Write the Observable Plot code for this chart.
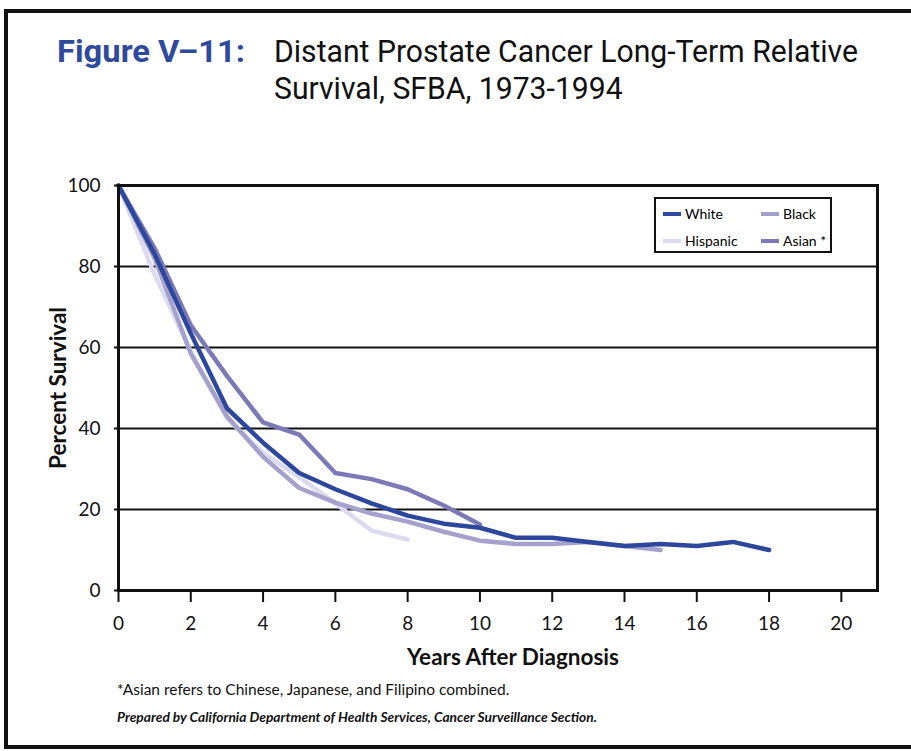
<!DOCTYPE html>
<html>
<head>
<meta charset="utf-8">
<script src="https://cdn.jsdelivr.net/npm/d3@7"></script>
<script src="https://cdn.jsdelivr.net/npm/@observablehq/plot@0.6"></script>
<style>
  html, body { margin: 0; padding: 0; background: #fff; }
  body { width: 911px; height: 751px; overflow: hidden; position: relative; font-family: Lato, "Open Sans", sans-serif; }
  #frameBorder { position: absolute; left: 4px; top: 9px; width: 1000px; height: 732px; border: 4px solid #111; border-right: none; }
  .tl { position: absolute; font-family: Roboto, "Open Sans", sans-serif; font-size: 30.5px; line-height: 37px; color: #111; white-space: nowrap; transform-origin: 0 0; }
  .fig { color: #2f4a9c; font-weight: bold; }
  #chart { position: absolute; left: 0; top: 0; }
  #legend { position: absolute; left: 654px; top: 197px; width: 174px; height: 52px; border: 2px solid #111; background: #fff; font-size: 14px; }
  .item { position: absolute; display: flex; align-items: center; white-space: nowrap; }
  .sw { width: 18px; height: 4px; margin-right: 4px; }
  #note { position: absolute; left: 117px; top: 680px; font-size: 15.5px; color: #111; white-space: nowrap; }
  #prep { position: absolute; left: 117px; top: 708px; font-size: 13.8px; font-weight: bold; font-style: italic; color: #111; white-space: nowrap; }
</style>
</head>
<body>
<div id="frameBorder"></div>
<div class="tl fig" data-w="188" style="left:57px; top:33px;">Figure V–11:</div>
<div class="tl" data-w="584" style="left:274px; top:33px;">Distant Prostate Cancer Long-Term Relative<br>Survival, SFBA, 1973-1994</div>
<div id="chart"></div>
<div id="legend"></div>
<div id="note">*Asian refers to Chinese, Japanese, and Filipino combined.</div>
<div id="prep">Prepared by California Department of Health Services, Cancer Surveillance Section.</div>
<script>
// ---- data ----
const races = ["White", "Black", "Hispanic", "Asian *"];
const raceColors = ["#2c479b", "#a4a1cd", "#dcdaee", "#7b7ab7"];
const whiteYears = [0,1,2,3,4,5,6,7,8,9,10,11,12,13,14,15,16,17,18];
const whiteValues = [100, 83, 63.5, 45, 36.5, 29, 25, 21.5, 18.5, 16.5, 15.5, 13, 13, 12, 11, 11.5, 11, 12, 10];
const blackYears = [0,1,2,3,4,5,6,7,8,9,10,11,12,13,14,15];
const blackValues = [100, 82, 58.5, 43, 33, 25.3, 21.7, 19, 17, 14.5, 12.3, 11.5, 11.5, 12, 11, 10];
const hispanicYears = [0,1,2,3,4,5,6,7,8];
const hispanicValues = [100, 78, 59, 42.5, 34, 28, 21.5, 14.8, 12.6];
const asianYears = [0,1,2,3,4,5,6,7,8,9,10];
const asianValues = [100, 84.5, 65.5, 53, 41.5, 38.5, 29, 27.5, 25, 21, 16.3];
const xTicks = [0,2,4,6,8,10,12,14,16,18,20];
const yTicks = [0,20,40,60,80,100];
const gridValues = [20,40,60,80];

// draw order: White on top
const seriesList = [
  {race: "Asian *", years: asianYears, values: asianValues},
  {race: "Hispanic", years: hispanicYears, values: hispanicValues},
  {race: "Black", years: blackYears, values: blackValues},
  {race: "White", years: whiteYears, values: whiteValues}
];
const rows = seriesList.flatMap(s => s.years.map((yr, i) => ({race: s.race, year: yr, value: s.values[i]})));

const chart = Plot.plot({
  width: 911,
  height: 751,
  marginTop: 185,
  marginBottom: 161,
  marginLeft: 118,
  marginRight: 34,
  style: {background: "transparent", fontFamily: "Lato, 'Open Sans', sans-serif", color: "#111", overflow: "visible"},
  x: {domain: [0, 21]},
  y: {domain: [0, 100]},
  color: {domain: races, range: raceColors},
  marks: [
    Plot.ruleY(gridValues, {stroke: "#111", strokeWidth: 2}),
    Plot.line(rows, {x: "year", y: "value", z: "race", stroke: "race", strokeWidth: 4.5, strokeLinejoin: "round"}),
    Plot.frame({stroke: "#111", strokeWidth: 3}),
    Plot.axisX({ticks: xTicks, tickSize: 12, tickPadding: 14, strokeWidth: 2, fontSize: 19, label: null}),
    Plot.axisY({ticks: yTicks, tickSize: 4, tickPadding: 14, strokeWidth: 2, fontSize: 19, label: null}),
    Plot.text(["Years After Diagnosis"], {frameAnchor: "bottom", dy: 74, dx: 15, fontSize: 22.5, fontWeight: "bold", fill: "#111"}),
    Plot.text(["Percent Survival"], {frameAnchor: "left", textAnchor: "middle", dx: -60, rotate: -90, fontSize: 22.5, fontWeight: "bold", fill: "#111"})
  ]
});
document.getElementById("chart").appendChild(chart);

// legend (HTML, from the same arrays)
const legend = document.getElementById("legend");
const legendPos = [[7, 8], [105, 8], [7, 35], [105, 35]];
races.forEach((r, i) => {
  const it = document.createElement("div");
  it.className = "item";
  it.style.left = legendPos[i][0] + "px";
  it.style.top = (legendPos[i][1] - 2) + "px";
  it.innerHTML = `<span class="sw" style="background:${raceColors[i]}"></span><span>${r}</span>`;
  legend.appendChild(it);
});

// condense title blocks to the reference widths
function fitTitles() {
  document.querySelectorAll(".tl").forEach(el => {
    el.style.transform = "none";
    const w = el.getBoundingClientRect().width;
    const target = +el.dataset.w;
    if (w > 0) el.style.transform = `scaleX(${target / w})`;
  });
}
fitTitles();
if (document.fonts && document.fonts.ready) document.fonts.ready.then(fitTitles);
</script>
</body>
</html>
